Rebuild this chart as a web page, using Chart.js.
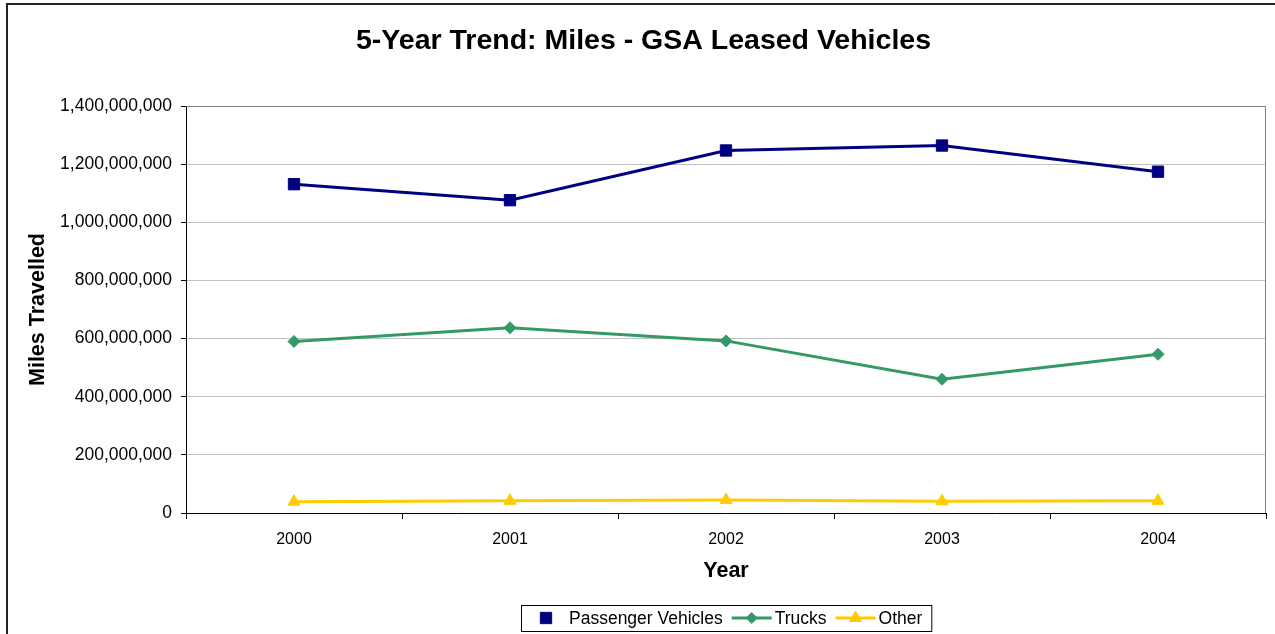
<!DOCTYPE html>
<html>
<head>
<meta charset="utf-8">
<script src="https://cdn.jsdelivr.net/npm/chart.js@4.4.1/dist/chart.umd.min.js"></script>
<style>
  html, body { margin: 0; padding: 0; background: #fff; }
  #wrap { width: 1275px; height: 634px; }
</style>
</head>
<body>
<div id="wrap"><canvas id="myChart" width="1275" height="634"></canvas></div>
<script>
// data
const years = ["2000", "2001", "2002", "2003", "2004"];
const passenger = [1131000000, 1076000000, 1247000000, 1264000000, 1174000000];
const trucks = [590000000, 637000000, 592000000, 460000000, 546000000];
const other = [39000000, 42000000, 45000000, 40000000, 42000000];
const yTicks = [0, 200000000, 400000000, 600000000, 800000000, 1000000000, 1200000000, 1400000000];

const navy = "#000080";
const green = "#339966";
const yellow = "#FFCC00";
const fontName = "'Liberation Sans', Arial, sans-serif";

function fmt(v) {
  return Number(v).toLocaleString("en-US");
}

// frame, plot border and the boxed legend at the bottom
const extras = {
  id: "extras",
  afterDraw(chart) {
    let ctx = chart.ctx;
    let a = chart.chartArea;
    ctx.save();

    // outer chart border (only left and top are inside the picture)
    ctx.strokeStyle = "#222";
    ctx.lineWidth = 2;
    ctx.beginPath();
    ctx.moveTo(7, 640);
    ctx.lineTo(7, 4);
    ctx.lineTo(1280, 4);
    ctx.stroke();

    // plot area border top / right
    ctx.strokeStyle = "#808080";
    ctx.lineWidth = 1;
    ctx.beginPath();
    ctx.moveTo(a.left, a.top + 0.5);
    ctx.lineTo(a.right - 0.5, a.top + 0.5);
    ctx.lineTo(a.right - 0.5, a.bottom);
    ctx.stroke();

    // legend
    let items = [
      { text: "Passenger Vehicles", color: navy, style: "rect", r: 8 },
      { text: "Trucks", color: green, style: "rectRot", r: 5.5 },
      { text: "Other", color: yellow, style: "triangle", r: 7 }
    ];
    ctx.font = "17.5px " + fontName;
    ctx.textBaseline = "middle";
    ctx.textAlign = "left";
    let total = 0;
    items.forEach((it, i) => {
      it.w = ctx.measureText(it.text).width;
      total += i == 0 ? 48 + it.w : 9 + 43 + it.w;
    });
    total += 9;
    let boxX = Math.round((a.left + a.right) / 2 - total / 2);
    let boxY = 605;
    let boxH = 26;
    let cy = boxY + boxH / 2;
    let x = boxX;
    items.forEach((it, i) => {
      let cx, tx;
      if (i == 0) {
        cx = x + 25;
        tx = x + 48;
      } else {
        x += 9;
        ctx.strokeStyle = it.color;
        ctx.lineWidth = 3;
        ctx.beginPath();
        ctx.moveTo(x, cy);
        ctx.lineTo(x + 40, cy);
        ctx.stroke();
        cx = x + 20;
        tx = x + 43;
      }
      ctx.fillStyle = it.color;
      ctx.strokeStyle = it.color;
      ctx.lineWidth = 1;
      Chart.helpers.drawPoint(ctx, { pointStyle: it.style, radius: it.r, borderWidth: 1, rotation: 0 }, cx, cy);
      ctx.fillStyle = "#000";
      ctx.fillText(it.text, tx, cy + 1);
      x = tx + it.w;
    });
    ctx.strokeStyle = "#000";
    ctx.lineWidth = 1;
    ctx.strokeRect(boxX + 0.5, boxY + 0.5, total, boxH);
    ctx.restore();
  }
};

let ctx = document.getElementById("myChart");

let myChart = new Chart(ctx, {
  type: "line",
  data: {
    labels: years,
    datasets: [
      {
        label: "Passenger Vehicles",
        data: passenger,
        borderColor: navy,
        backgroundColor: navy,
        borderWidth: 3,
        pointStyle: "rect",
        pointRadius: 8,
        pointBorderWidth: 1,
        tension: 0
      },
      {
        label: "Trucks",
        data: trucks,
        borderColor: green,
        backgroundColor: green,
        borderWidth: 3,
        pointStyle: "rectRot",
        pointRadius: 6,
        pointBorderWidth: 1,
        tension: 0
      },
      {
        label: "Other",
        data: other,
        borderColor: yellow,
        backgroundColor: yellow,
        borderWidth: 3,
        pointStyle: "triangle",
        pointRadius: 7,
        pointBorderWidth: 1,
        tension: 0
      }
    ]
  },
  options: {
    responsive: false,
    animation: false,
    layout: {
      padding: { left: 20, right: 8, top: 0, bottom: 44 }
    },
    plugins: {
      legend: { display: false },
      tooltip: { enabled: false },
      title: {
        display: true,
        text: "5-Year Trend: Miles - GSA Leased Vehicles",
        color: "#000",
        font: { family: fontName, size: 28.5, weight: "bold" },
        padding: { top: 24, bottom: 47.8 }
      }
    },
    scales: {
      x: {
        type: "category",
        offset: true,
        grid: {
          offset: true,
          drawOnChartArea: false,
          drawTicks: true,
          tickLength: 6,
          tickColor: "#000"
        },
        border: { color: "#000", width: 1 },
        ticks: {
          color: "#000",
          font: { family: fontName, size: 16 },
          padding: 11,
          maxRotation: 0
        },
        title: {
          display: true,
          text: "Year",
          color: "#000",
          font: { family: fontName, size: 21.5, weight: "bold" },
          padding: { top: 0, bottom: 6 }
        },
        afterFit(s) {
          s.height = 77;
        }
      },
      y: {
        min: 0,
        max: 1400000000,
        afterBuildTicks(s) {
          s.ticks = yTicks.map((v) => ({ value: v }));
        },
        grid: {
          color: "#c0c0c0",
          tickColor: "#000",
          tickLength: 5,
          drawTicks: true
        },
        border: { color: "#000", width: 1 },
        ticks: {
          color: "#000",
          font: { family: fontName, size: 17.5 },
          padding: 9,
          callback: (v) => fmt(v)
        },
        title: {
          display: true,
          text: "Miles Travelled",
          color: "#000",
          font: { family: fontName, size: 21.5, weight: "bold" },
          padding: { top: 5, bottom: 0 }
        },
        afterFit(s) {
          s.width = 166;
        }
      }
    }
  },
  plugins: [extras]
});
</script>
</body>
</html>
